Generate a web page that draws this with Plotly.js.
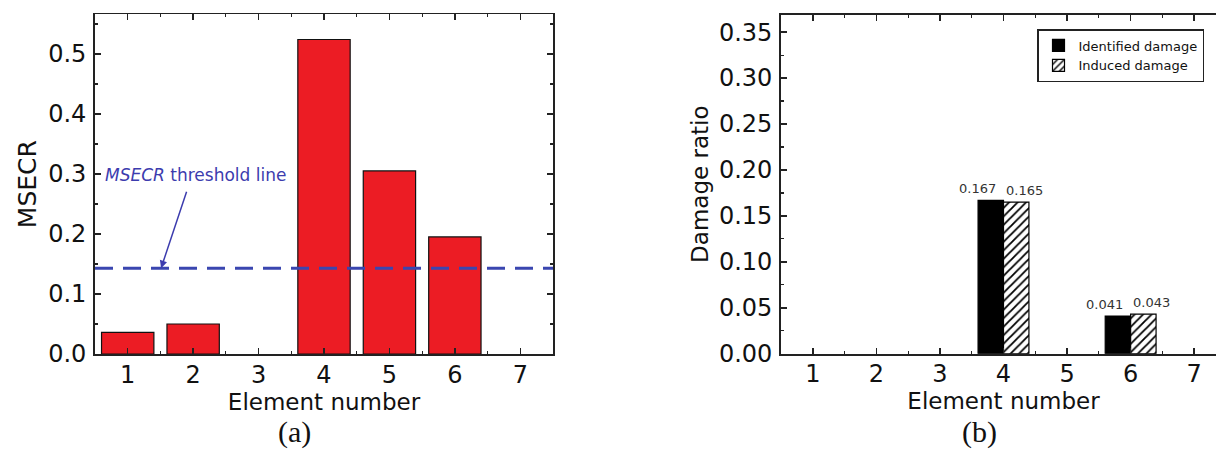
<!DOCTYPE html>
<html>
<head>
<meta charset="utf-8">
<script src="https://cdn.plot.ly/plotly-3.0.1.min.js"></script>
<style>
html,body{margin:0;padding:0;overflow:hidden;background:#fff;}
#chart{width:1230px;height:452px;}
</style>
</head>
<body>
<div id="chart"></div>
<script>
// ---- data ----
const elements = [1, 2, 3, 4, 5, 6, 7];
const msecr = [0.036, 0.050, 0, 0.524, 0.305, 0.195, 0];
const msecrThreshold = 0.143;
const identifiedDamage = [0, 0, 0, 0.167, 0, 0.041, 0];
const inducedDamage = [0, 0, 0, 0.165, 0, 0.043, 0];
const seriesNames = ['Identified damage', 'Induced damage'];
const xTitle = 'Element number';
const yTitleA = 'MSECR';
const yTitleB = 'Damage ratio';
const panelLabels = ['(a)', '(b)'];

const W = 1230, H = 452;
const FONT = 'DejaVu Sans, Arial, sans-serif';
const SERIF = 'Liberation Serif, Times New Roman, serif';
const AX = '#222';

// zero-height bars are not drawn (no outline on the axis)
const nz = arr => arr.map(v => v > 0 ? v : null);

const traces = [
  {
    type: 'bar', x: elements, y: nz(msecr), xaxis: 'x', yaxis: 'y',
    marker: {color: '#ec1c24', line: {color: '#111', width: 1.2}},
    showlegend: false, hoverinfo: 'x+y'
  },
  {
    type: 'bar', x: elements, y: nz(identifiedDamage), xaxis: 'x2', yaxis: 'y2',
    name: seriesNames[0],
    marker: {color: '#000', line: {color: '#000', width: 1.2}}
  },
  {
    type: 'bar', x: elements, y: nz(inducedDamage), xaxis: 'x2', yaxis: 'y2',
    name: seriesNames[1],
    marker: {color: '#fff', line: {color: '#000', width: 1.2},
             pattern: {shape: '/', fgcolor: '#000', bgcolor: '#fff', size: 6, solidity: 0.3}}
  }
];

function xaxisDef(domain, anchor, standoff) {
  return {
    domain: domain, anchor: anchor, range: [0.5, 7.5],
    tickvals: elements, ticks: 'inside', ticklen: 6, tickwidth: 1.5, tickcolor: AX,
    showline: true, linecolor: AX, linewidth: 1.8, mirror: 'ticks',
    minor: {dtick: 0.5, tick0: 0.5, ticks: 'inside', ticklen: 3, tickcolor: AX, tickwidth: 1.2},
    showgrid: false, zeroline: false, fixedrange: true,
    tickfont: {family: FONT, size: 24, color: '#111'},
    ticklabelstandoff: -2,
    title: {text: xTitle, font: {family: FONT, size: 23, color: '#111'}, standoff: standoff}
  };
}
function yaxisDef(domain, anchor, range, dtick, fmt, title, tsize) {
  return {
    domain: domain, anchor: anchor, range: range, dtick: dtick, tick0: 0,
    tickformat: fmt, ticks: 'inside', ticklen: 6, tickwidth: 1.5, tickcolor: AX,
    showline: true, linecolor: AX, linewidth: 1.8, mirror: 'ticks',
    minor: {dtick: dtick / 2, ticks: 'inside', ticklen: 3, tickcolor: AX, tickwidth: 1.2},
    showgrid: false, zeroline: false, fixedrange: true,
    tickfont: {family: FONT, size: 24, color: '#111'},
    ticklabelstandoff: 2,
    title: {text: title, font: {family: FONT, size: tsize, color: '#111'}, standoff: 4}
  };
}

// value labels above the damage bars, built from the data arrays
function valueLabels(arr, shift) {
  const out = [];
  arr.forEach((v, i) => {
    if (v > 0) out.push({
      xref: 'x2', yref: 'y2', x: elements[i], y: v, text: v.toFixed(3),
      showarrow: false, xshift: shift, yshift: 2, xanchor: 'center', yanchor: 'bottom',
      font: {family: FONT, size: 13, color: '#333'}
    });
  });
  return out;
}

const layout = {
  width: W, height: H,
  margin: {l: 0, r: 0, t: 0, b: 0, pad: 0},
  paper_bgcolor: '#fff', plot_bgcolor: '#fff',
  barmode: 'group', bargap: 0.2, bargroupgap: 0,
  xaxis: xaxisDef([95 / W, 553 / W], 'y', 3),
  yaxis: yaxisDef([(H - 354) / H, (H - 14.3) / H], 'x', [0, 0.566], 0.1, '.1f', yTitleA, 25),
  xaxis2: xaxisDef([781 / W, 1226 / W], 'y2', 0),
  yaxis2: yaxisDef([(H - 353.7) / H, (H - 14.7) / H], 'x2', [0, 0.369], 0.05, '.2f', yTitleB, 23),
  showlegend: true,
  legend: {
    x: 1037 / W, y: 1 - 29 / H, xanchor: 'left', yanchor: 'top',
    bordercolor: '#222', borderwidth: 1.5, bgcolor: '#fff',
    font: {family: FONT, size: 13, color: '#111'},
    tracegroupgap: 0, itemwidth: 30
  },
  shapes: [
    {type: 'line', xref: 'x domain', yref: 'y', x0: 0, x1: 1, y0: msecrThreshold, y1: msecrThreshold,
     line: {color: '#3a46b0', width: 3, dash: '18px,10px'}}
  ],
  annotations: [
    {xref: 'x', yref: 'y', x: 2.03, y: 0.298, xanchor: 'center', showarrow: false,
     text: '<i>MSECR</i> threshold line',
     font: {family: FONT, size: 17, color: '#3c3cae'}},
    {xref: 'x', yref: 'y', x: 1.51, y: msecrThreshold, text: '', showarrow: true,
     ax: 26, ay: -78, arrowhead: 2, arrowsize: 1, arrowwidth: 1.5, arrowcolor: '#3c3cae'},
    {xref: 'paper', yref: 'paper', x: 294 / W, y: 1 - 432 / H, xanchor: 'center', yanchor: 'middle',
     showarrow: false, text: panelLabels[0], font: {family: SERIF, size: 30, color: '#111'}},
    {xref: 'paper', yref: 'paper', x: 979 / W, y: 1 - 432 / H, xanchor: 'center', yanchor: 'middle',
     showarrow: false, text: panelLabels[1], font: {family: SERIF, size: 30, color: '#111'}}
  ].concat(valueLabels(identifiedDamage, -26), valueLabels(inducedDamage, 21))
};

Plotly.newPlot('chart', traces, layout, {displayModeBar: false, staticPlot: true});
</script>
</body>
</html>
